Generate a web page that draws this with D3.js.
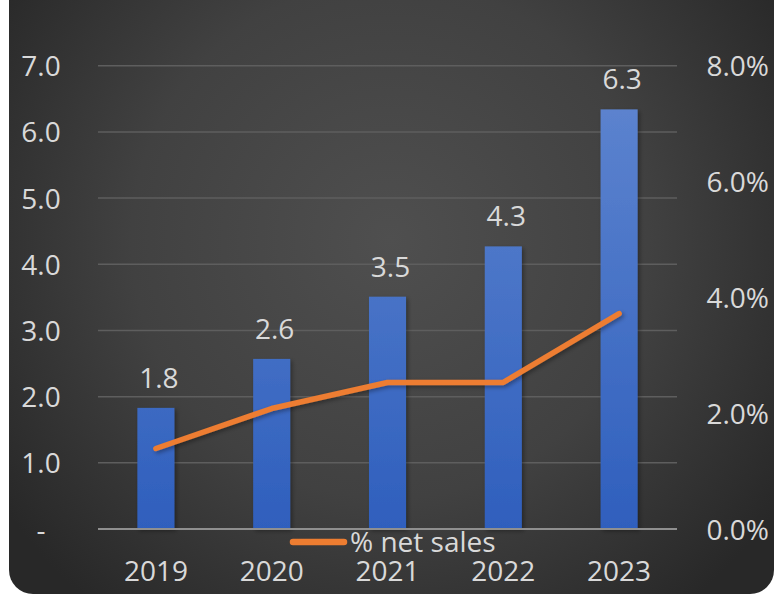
<!DOCTYPE html>
<html>
<head>
<meta charset="utf-8">
<script src="https://cdn.jsdelivr.net/npm/d3@7"></script>
<style>
  html, body { margin: 0; padding: 0; background: #ffffff; }
  svg { display: block; }
  text { font-family: "Open Sans", "Noto Sans", sans-serif; fill: #d9d9d9; }
</style>
</head>
<body>
<svg id="chart" width="780" height="597"></svg>
<script>
// Chart data
const years = ["2019", "2020", "2021", "2022", "2023"];
const spend = [1.83, 2.57, 3.51, 4.27, 6.34];        // left axis, bars
const netSalesPct = [1.39, 2.08, 2.53, 2.53, 3.72];  // right axis, % of net sales
const leftTicks = [0, 1, 2, 3, 4, 5, 6, 7];
const rightTicks = [0, 2, 4, 6, 8];
const seriesName = "% net sales";

const svg = d3.select("#chart");
const W = 780, H = 597;
const plot = { left: 98, right: 677, top: 65.7, bottom: 529 };

const defs = svg.append("defs");

// Card background: dark radial gradient
const bg = defs.append("radialGradient")
  .attr("id", "bgGrad")
  .attr("gradientUnits", "userSpaceOnUse")
  .attr("cx", 390).attr("cy", 240).attr("r", 470);
bg.append("stop").attr("offset", "0%").attr("stop-color", "#4f4f4f");
bg.append("stop").attr("offset", "55%").attr("stop-color", "#414141");
bg.append("stop").attr("offset", "100%").attr("stop-color", "#282828");

// Bar fill: lighter blue on top, deeper blue at the base
const barGrad = defs.append("linearGradient")
  .attr("id", "barGrad")
  .attr("gradientUnits", "userSpaceOnUse")
  .attr("x1", 0).attr("y1", plot.top).attr("x2", 0).attr("y2", plot.bottom);
barGrad.append("stop").attr("offset", "0%").attr("stop-color", "#6086d0");
barGrad.append("stop").attr("offset", "100%").attr("stop-color", "#2f5fbd");

const shadow = defs.append("filter").attr("id", "shadow")
  .attr("x", "-20%").attr("y", "-20%").attr("width", "140%").attr("height", "140%");
shadow.append("feDropShadow")
  .attr("dx", 2).attr("dy", 2).attr("stdDeviation", 2)
  .attr("flood-color", "#000").attr("flood-opacity", 0.35);

svg.append("rect")
  .attr("x", 9).attr("y", -40)
  .attr("width", 765).attr("height", 634)
  .attr("rx", 24).attr("ry", 24)
  .attr("fill", "url(#bgGrad)");

// Scales
const x = d3.scaleBand().domain(years)
  .range([plot.left, plot.right])
  .paddingInner(0.68).paddingOuter(0.34);
const yL = d3.scaleLinear().domain([0, 7]).range([plot.bottom, plot.top]);
const yR = d3.scaleLinear().domain([0, 8]).range([plot.bottom, plot.top]);

// Gridlines
svg.append("g")
  .selectAll("line")
  .data(leftTicks.filter(d => d > 0))
  .join("line")
  .attr("x1", plot.left).attr("x2", plot.right)
  .attr("y1", d => yL(d)).attr("y2", d => yL(d))
  .attr("stroke", "#5e5e5e").attr("stroke-width", 1.5);

// Left axis labels
const leftAxis = d3.axisLeft(yL)
  .tickValues(leftTicks)
  .tickFormat(d => d === 0 ? "-" : d3.format(".1f")(d))
  .tickSize(0).tickPadding(0);
const gl = svg.append("g").attr("transform", "translate(41,0)").call(leftAxis);
gl.select(".domain").remove();
gl.selectAll("text")
  .attr("text-anchor", "middle")
  .attr("dy", "0.36em")
  .style("font-size", "28px").attr("fill", "#d9d9d9");

// Right axis labels
const rightAxis = d3.axisRight(yR)
  .tickValues(rightTicks)
  .tickFormat(d => d3.format(".1f")(d) + "%")
  .tickSize(0).tickPadding(0);
const gr = svg.append("g").attr("transform", "translate(769,0)").call(rightAxis);
gr.select(".domain").remove();
gr.selectAll("text")
  .attr("text-anchor", "end")
  .attr("dy", "0.36em")
  .style("font-size", "28px").attr("fill", "#d9d9d9");

// Bars
svg.append("g")
  .selectAll("rect")
  .data(years.map((y, i) => ({ year: y, v: spend[i] })))
  .join("rect")
  .attr("x", d => x(d.year))
  .attr("width", x.bandwidth())
  .attr("y", d => yL(d.v))
  .attr("height", d => yL(0) - yL(d.v))
  .attr("fill", "url(#barGrad)")
  .attr("filter", "url(#shadow)");

// Category axis line
const bottomAxis = d3.axisBottom(x).tickSize(0).tickPadding(0);
const gb = svg.append("g").attr("transform", `translate(0,${plot.bottom})`).call(bottomAxis);
gb.select(".domain")
  .attr("d", `M${plot.left},0H${plot.right}`)
  .attr("stroke", "#8f8f8f").attr("stroke-width", 2);
gb.selectAll("text")
  .attr("y", 52).attr("dy", 0)
  .style("font-size", "28px").attr("fill", "#d9d9d9");

// Bar value labels
svg.append("g")
  .selectAll("text")
  .data(years.map((y, i) => ({ year: y, v: spend[i] })))
  .join("text")
  .attr("x", d => x(d.year) + x.bandwidth() / 2 + 3)
  .attr("y", d => yL(d.v) - 20)
  .attr("text-anchor", "middle")
  .style("font-size", "28px")
  .text(d => d3.format(".1f")(d.v));

// % of net sales line
const line = d3.line()
  .x((d, i) => x(years[i]) + x.bandwidth() / 2)
  .y(d => yR(d));
svg.append("path")
  .datum(netSalesPct)
  .attr("d", line)
  .attr("fill", "none")
  .attr("stroke", "#ed7d31")
  .attr("stroke-width", 5.5)
  .attr("stroke-linecap", "round")
  .attr("stroke-linejoin", "round")
  .attr("filter", "url(#shadow)");

// Legend
const lg = svg.append("g").attr("transform", "translate(290,542)");
lg.append("line")
  .attr("x1", 3).attr("x2", 54).attr("y1", 0).attr("y2", 0)
  .attr("stroke", "#ed7d31").attr("stroke-width", 6.5)
  .attr("stroke-linecap", "round");
lg.append("text")
  .attr("x", 60).attr("y", 10)
  .style("font-size", "28px")
  .text(seriesName);
</script>
</body>
</html>
